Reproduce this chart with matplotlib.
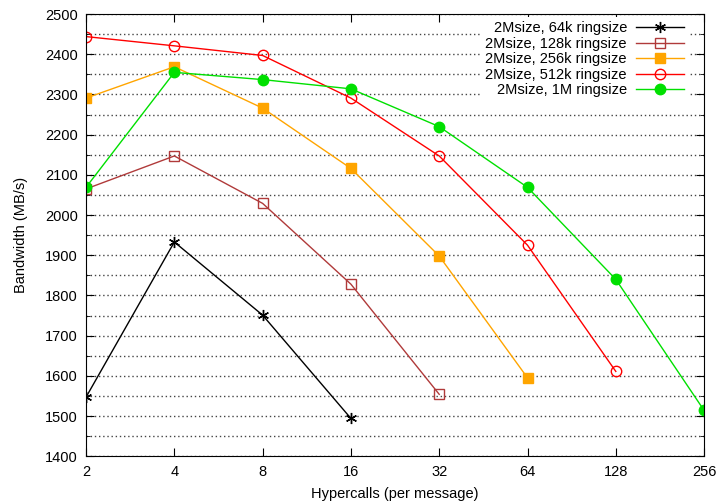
import matplotlib
matplotlib.use("Agg")
import matplotlib.pyplot as plt
import numpy as np

plt.rcParams["font.family"] = ["Liberation Sans", "DejaVu Sans"]

hypercalls = [2, 4, 8, 16, 32, 64, 128, 256]
x_labels = ["2", "4", "8", "16", "32", "64", "128", "256"]

bw_64k = [1547, 1933, 1751, 1494]
bw_128k = [2065, 2147, 2029, 1828, 1554]
bw_256k = [2291, 2369, 2266, 2116, 1898, 1595]
bw_512k = [2444, 2421, 2397, 2291, 2147, 1925, 1611]
bw_1m = [2069, 2355, 2337, 2314, 2220, 2069, 1840, 1514]

series = [
    ("2Msize, 64k ringsize", bw_64k, "black", dict(marker=(6, 2, 0), markersize=8, markerfacecolor="black")),
    ("2Msize, 128k ringsize", bw_128k, "#b03a3a", dict(marker="s", markersize=7, markerfacecolor="none")),
    ("2Msize, 256k ringsize", bw_256k, "#ffa500", dict(marker="s", markersize=7)),
    ("2Msize, 512k ringsize", bw_512k, "#ff0000", dict(marker="o", markersize=7.5, markerfacecolor="none")),
    ("2Msize, 1M ringsize", bw_1m, "#00e000", dict(marker="o", markersize=7.5)),
]

fig = plt.figure(figsize=(7.17, 5.03), dpi=100)
ax = fig.add_axes([0.12, 0.093, 0.862, 0.879])

for label, vals, color, style in series:
    ax.plot(hypercalls[:len(vals)], vals, color=color, linewidth=1,
            markeredgecolor=color, label=label, **style)

ax.set_xscale("log", base=2)
ax.set_xlim(2, 256)
ax.set_xticks(hypercalls)
ax.set_xticklabels(x_labels)
ax.minorticks_off()
ax.set_ylim(1400, 2500)
ax.set_yticks(np.arange(1400, 2501, 100))
ax.set_yticks(np.arange(1450, 2500, 100), minor=True)
ax.yaxis.grid(True, which="both", linestyle=(0, (1, 2)), color="#444444", linewidth=1)
ax.set_axisbelow(True)

ax.tick_params(direction="in", top=True, right=True, labelsize=10.5, length=6, pad=6)
ax.tick_params(which="minor", direction="in", right=True, length=3)

ax.set_xlabel("Hypercalls (per message)", fontsize=10.5, labelpad=6)
ax.set_ylabel("Bandwidth (MB/s)", fontsize=10.5, labelpad=12)

leg = ax.legend(loc="upper right", bbox_to_anchor=(0.979, 1.0), markerfirst=False,
                fontsize=10.5, frameon=True, fancybox=False, framealpha=1,
                handlelength=3.3, labelspacing=0.1, borderaxespad=0.2,
                borderpad=0.3, handletextpad=0.6)
leg.get_frame().set_edgecolor("none")
for t in leg.get_texts():
    t.set_ha("right")
leg._legend_box.align = "right"

fig.savefig("out.png", dpi=100)
